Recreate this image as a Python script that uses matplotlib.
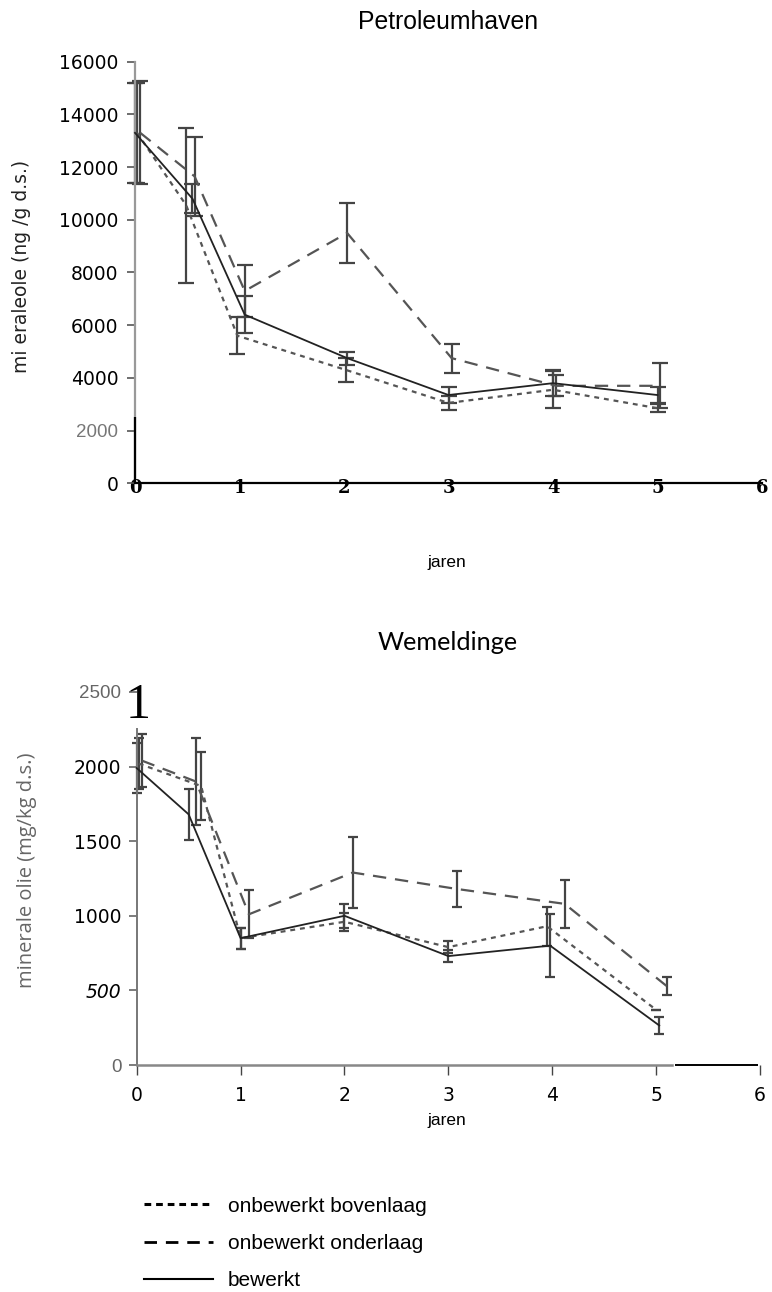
import matplotlib
matplotlib.use("Agg")
import matplotlib.pyplot as plt
from matplotlib.lines import Line2D

# ---------------- data: Petroleumhaven ----------------
ph_bov_x = [0.02, 0.49, 0.98, 2.02, 3.00, 4.00, 5.00]
ph_bov_y = [13300, 10550, 5600, 4300, 3050, 3550, 2850]
ph_bov_e = [1900, 2950, 700, 450, 250, 700, 150]

ph_ond_x = [0.05, 0.57, 1.05, 2.03, 3.03, 4.03, 5.02]
ph_ond_y = [13300, 11650, 7300, 9500, 4750, 3700, 3700]
ph_ond_e = [1950, 1500, 1000, 1150, 550, 400, 850]

ph_bew_x = [0.00, 0.55, 1.05, 2.03, 3.00, 4.00, 5.00]
ph_bew_y = [13300, 10800, 6400, 4750, 3350, 3800, 3350]
ph_bew_e = [1900, 550, 700, 250, 300, 500, 300]

# ---------------- data: Wemeldinge ----------------
we_bov_x = [0.02, 0.62, 1.00, 2.00, 3.00, 3.95, 5.00]
we_bov_y = [2020, 1870, 850, 960, 790, 930, 370]
we_bov_e = [170, 230, 70, 60, 40, 130, 0]

we_ond_x = [0.05, 0.57, 1.08, 2.08, 3.08, 4.12, 5.10]
we_ond_y = [2040, 1900, 1010, 1290, 1180, 1080, 530]
we_ond_e = [180, 290, 160, 240, 120, 160, 60]

we_bew_x = [0.00, 0.50, 1.00, 2.00, 3.00, 3.98, 5.03]
we_bew_y = [1990, 1680, 850, 1000, 730, 800, 265]
we_bew_e = [170, 170, 70, 80, 40, 210, 55]

x_ticks = [0, 1, 2, 3, 4, 5, 6]
ph_yticks = [0, 2000, 4000, 6000, 8000, 10000, 12000, 14000, 16000]
we_yticks = [0, 500, 1000, 1500, 2000, 2500]

labels = ["onbewerkt bovenlaag", "onbewerkt onderlaag", "bewerkt"]

W, H = 772, 1292
fig = plt.figure(figsize=(W / 100, H / 100), dpi=100)

sty_bov = dict(color="#555555", lw=1.6, linestyle=(0, (2.2, 2.2)))
sty_ond = dict(color="#555555", lw=1.6, linestyle=(0, (6, 4)))
sty_bew = dict(color="#222222", lw=1.3, linestyle="-")


def series(ax, x, y, e, sty, cap):
    ax.plot(x, y, clip_on=False, zorder=3, **sty)
    ax.errorbar(x, y, yerr=e, fmt="none", ecolor="#444444", elinewidth=1.6,
                capsize=cap, capthick=1.6, clip_on=False, zorder=2)


# ---------------- top axes ----------------
ax1 = fig.add_axes([135 / W, 1 - 483.3 / H, (762 - 135) / W, (483.3 - 61.7) / H])
series(ax1, ph_bov_x, ph_bov_y, ph_bov_e, sty_bov, 5.5)
series(ax1, ph_ond_x, ph_ond_y, ph_ond_e, sty_ond, 5.5)
series(ax1, ph_bew_x, ph_bew_y, ph_bew_e, sty_bew, 5.5)
ax1.set_xlim(0, 6)
ax1.set_ylim(0, 16000)
for s in ["top", "right"]:
    ax1.spines[s].set_visible(False)
ax1.spines["left"].set_color("#999999")
ax1.spines["left"].set_linewidth(1.6)
ax1.vlines(0, 0, 2530, color="black", lw=1.6, clip_on=False, zorder=4)
ax1.spines["bottom"].set_linewidth(1.6)
ax1.set_xticks(x_ticks)
ax1.set_xticklabels([str(v) for v in x_ticks], family="DejaVu Serif",
                    fontweight="bold", fontsize=13)
ax1.tick_params(axis="x", length=0, pad=-3)
ax1.set_yticks(ph_yticks)
ax1.set_yticklabels([str(v) for v in ph_yticks], fontsize=13.5)
ax1.tick_params(axis="y", length=6, width=1.2, pad=6, color="#555555")
for lab in ax1.get_yticklabels():
    if lab.get_text() == "2000":
        lab.set_color("#777777")
        lab.set_family("Liberation Sans")
fig.text(448 / W, 1 - 22 / H, "Petroleumhaven", ha="center", va="center",
         fontsize=17.8, family="Liberation Sans")
fig.text(447 / W, 1 - 563 / H, "jaren", ha="center", va="center",
         fontsize=12.5, family="Liberation Sans")
fig.text(22 / W, 1 - 266 / H, "mi eraleole (ng /g d.s.)", ha="center",
         va="center", rotation=90, fontsize=13.5, family="DejaVu Sans",
         color="#222222")

# ---------------- bottom axes ----------------
ax2 = fig.add_axes([136.7 / W, 1 - 1065 / H, (760 - 136.7) / W, (1065 - 692) / H])
series(ax2, we_bov_x, we_bov_y, we_bov_e, sty_bov, 3.8)
series(ax2, we_ond_x, we_ond_y, we_ond_e, sty_ond, 3.8)
series(ax2, we_bew_x, we_bew_y, we_bew_e, sty_bew, 3.8)
ax2.set_xlim(0, 6)
ax2.set_ylim(0, 2500)
for s in ["top", "right"]:
    ax2.spines[s].set_visible(False)
ax2.spines["left"].set_color("#777777")
ax2.spines["left"].set_linewidth(1.4)
ax2.spines["left"].set_bounds(0, 2250)
ax2.spines["bottom"].set_color("#888888")
ax2.spines["bottom"].set_linewidth(1.8)
ax2.spines["bottom"].set_bounds(0, 5.15)
ax2.hlines(0, 5.18, 5.98, color="black", lw=1.4, clip_on=False, zorder=4)
ax2.set_xticks(x_ticks)
ax2.set_xticklabels([str(v) for v in x_ticks], fontsize=13.5)
ax2.tick_params(axis="x", length=7, width=1.0, pad=8, color="#444444")
ax2.set_yticks(we_yticks)
ax2.set_yticklabels([str(v) for v in we_yticks], fontsize=13.5)
ax2.tick_params(axis="y", length=6, width=1.2, pad=5, color="#666666")
for lab in ax2.get_yticklabels():
    t = lab.get_text()
    if t in ("2500", "0"):
        lab.set_color("#666666")
        lab.set_family("Liberation Sans")
    if t == "500":
        lab.set_style("italic")
fig.text(138 / W, 1 - 706 / H, "1", ha="center", va="center",
         fontsize=36, family="Liberation Serif")
fig.text(448 / W, 1 - 643 / H, "Wemeldinge", ha="center", va="center",
         fontsize=18.2, family="Lato")
fig.text(447 / W, 1 - 1121 / H, "jaren", ha="center", va="center",
         fontsize=12.5, family="Liberation Sans")
fig.text(27 / W, 1 - 870 / H, "minerale olie (mg/kg d.s.)", ha="center",
         va="center", rotation=90, fontsize=14.5, family="Open Sans",
         color="#666666")

# ---------------- legend ----------------
handles = [
    Line2D([], [], color="black", lw=2.2, linestyle=(0, (2.2, 1.6))),
    Line2D([], [], color="black", lw=2.0, linestyle=(0, (4.5, 3.2))),
    Line2D([], [], color="black", lw=1.5, linestyle="-"),
]
fig.legend(handles, labels, loc="upper left",
           bbox_to_anchor=(125 / W, 1 - 1178 / H), frameon=False,
           prop={"family": "Liberation Sans", "size": 15},
           handlelength=3.3, handletextpad=0.75, labelspacing=0.88)

fig.savefig("out.png", dpi=100)
